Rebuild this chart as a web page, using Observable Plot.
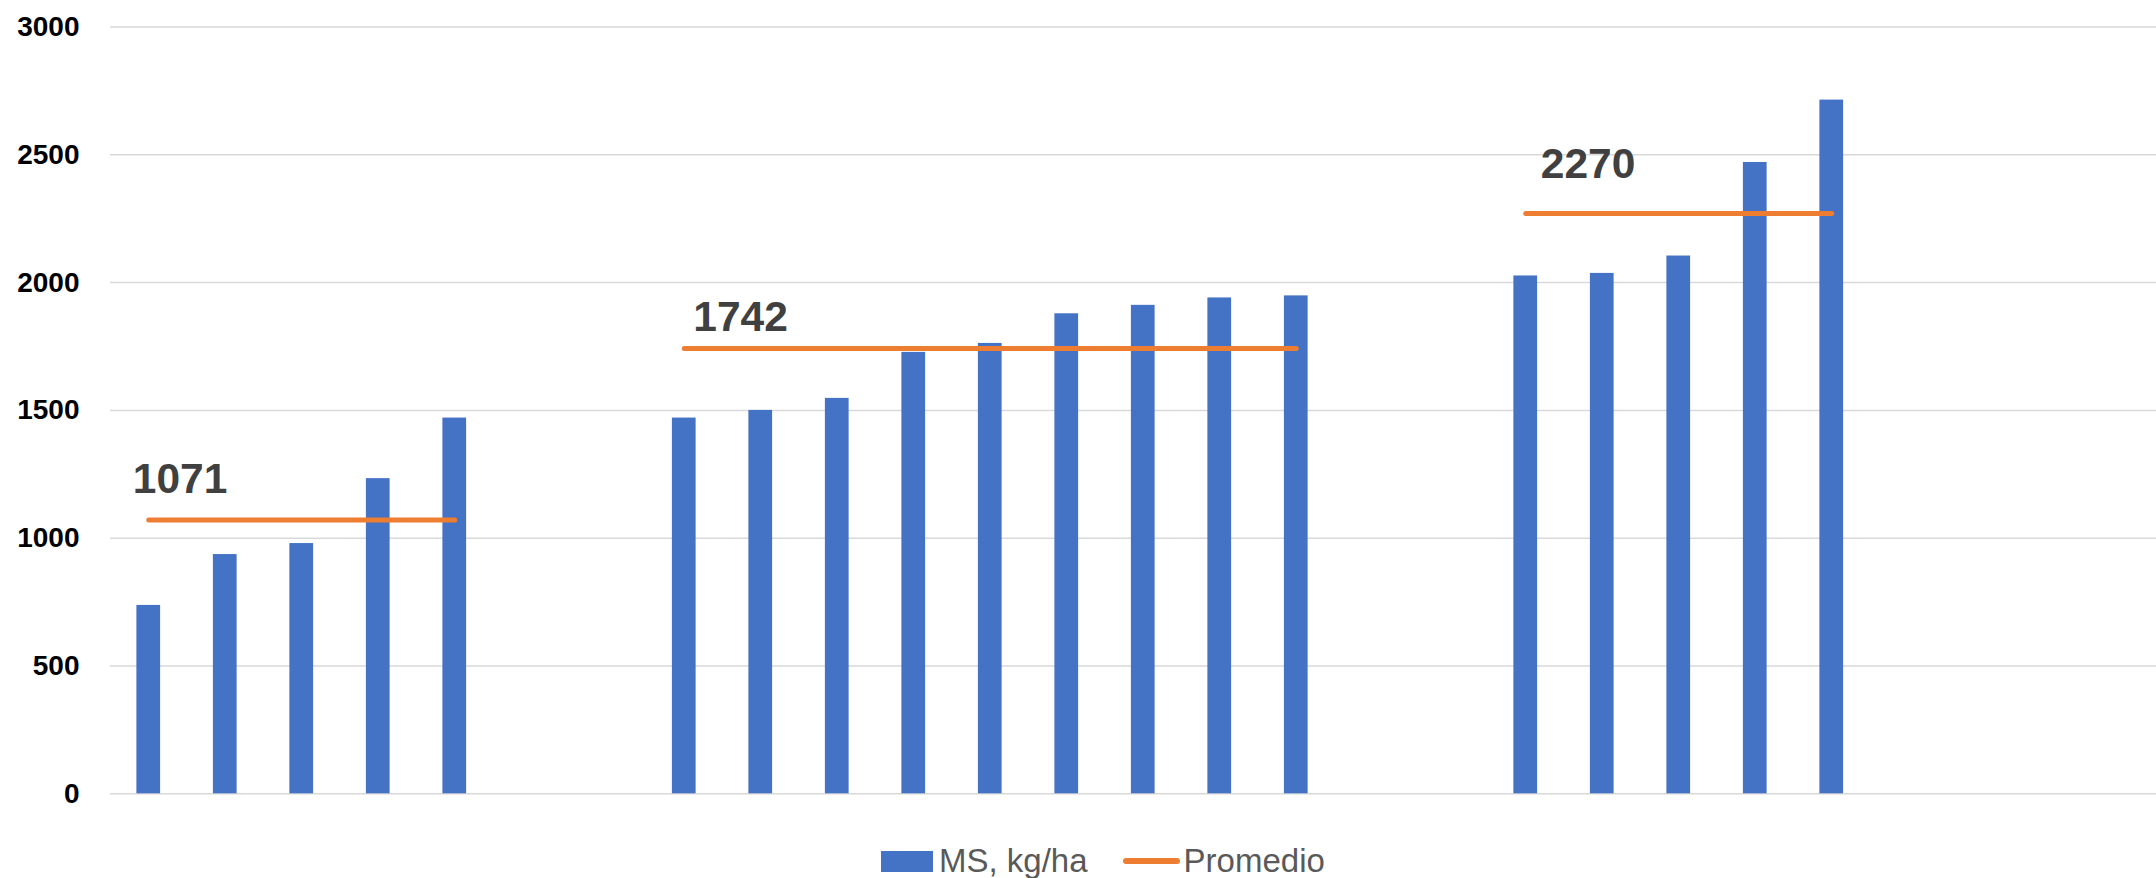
<!DOCTYPE html>
<html>
<head>
<meta charset="utf-8">
<script src="https://cdn.jsdelivr.net/npm/d3@7"></script>
<script src="https://cdn.jsdelivr.net/npm/@observablehq/plot@0.6"></script>
<style>
  html, body { margin: 0; padding: 0; background: #ffffff; }
  #chart { position: relative; width: 2156px; height: 878px; overflow: hidden; }
  #legend {
    position: absolute; left: 881px; top: 840px; height: 42px;
    display: flex; align-items: center;
    font-family: "Liberation Sans", Arial, sans-serif; font-size: 33px; color: #595959;
  }
  .sw-bar { width: 52px; height: 21px; background: #4472C4; margin-right: 6px; }
  .sw-line { width: 57px; height: 6px; border-radius: 3px; background: #ED7D31; margin-left: 35px; margin-right: 4px; }
</style>
</head>
<body>
<div id="chart"></div>
<script>
// Category slots (empty slots separate the three groups)
const categories = ["1","2","3","4","5","6","7","8","9","10","11","12","13","14",
                    "15","16","17","18","19","20","21","22","23","24","25","26","27"];
// MS, kg/ha per slot
const msValues = [737, 936, 979, 1233, 1470, null, null,
                  1470, 1500, 1547, 1727, 1762, 1878, 1911, 1940, 1948, null, null,
                  2026, 2036, 2104, 2470, 2714, null, null, null, null];
// Promedio per slot
const promedio = [1071, 1071, 1071, 1071, 1071, null, null,
                  1742, 1742, 1742, 1742, 1742, 1742, 1742, 1742, 1742, null, null,
                  2270, 2270, 2270, 2270, 2270, null, null, null, null];
// Average labels
const labelText = ["1071", "1742", "2270"];
const labelCategory = ["1", "8", "19"];
const labelValue = [1071, 1742, 2270];
// y ticks
const yTicks = [0, 500, 1000, 1500, 2000, 2500, 3000];

const rows = categories.map((c, i) => ({cat: c, ms: msValues[i], prom: promedio[i]}));
const bars = rows.filter(d => d.ms != null);
const labels = labelText.map((t, i) => ({cat: labelCategory[i], v: labelValue[i], t}));

const labelFont = {fontSize: 42.5, fontWeight: "bold", fontFamily: "Liberation Sans, Arial, sans-serif",
                   fill: "#404040", textAnchor: "start", lineAnchor: "middle"};

const chart = Plot.plot({
  width: 2156,
  height: 840,
  marginLeft: 110,
  marginRight: 0,
  marginTop: 26.5,
  marginBottom: 46.7,
  style: {fontFamily: "Liberation Sans, Arial, sans-serif", fontSize: "28px", background: "#ffffff", overflow: "visible"},
  x: {type: "band", domain: categories, range: [110, 2175.5], paddingInner: 0.69, paddingOuter: 0.345, round: false, axis: null},
  y: {domain: [0, 3000]},
  marks: [
    Plot.ruleY(yTicks, {stroke: "#d9d9d9", strokeWidth: 1.5}),
    Plot.axisY({ticks: yTicks, tickSize: 0, tickPadding: 31, label: null, color: "#000000",
                fontWeight: "bold", fontSize: 28, tickFormat: d => String(d)}),
    Plot.barY(bars, {x: "cat", y: "ms", fill: "#4472C4"}),
    Plot.line(rows, {x: "cat", y: "prom", stroke: "#ED7D31", strokeWidth: 5, strokeLinecap: "round"}),
    Plot.text([labels[0]], {x: "cat", y: "v", text: "t", dx: -16, dy: -41, ...labelFont}),
    Plot.text([labels[1]], {x: "cat", y: "v", text: "t", dx: 9, dy: -31, ...labelFont}),
    Plot.text([labels[2]], {x: "cat", y: "v", text: "t", dx: 15, dy: -49, ...labelFont})
  ]
});

const container = document.getElementById("chart");
container.appendChild(chart);

const legend = document.createElement("div");
legend.id = "legend";
legend.innerHTML = '<div class="sw-bar"></div><span>MS, kg/ha</span><div class="sw-line"></div><span>Promedio</span>';
container.appendChild(legend);
</script>
</body>
</html>
